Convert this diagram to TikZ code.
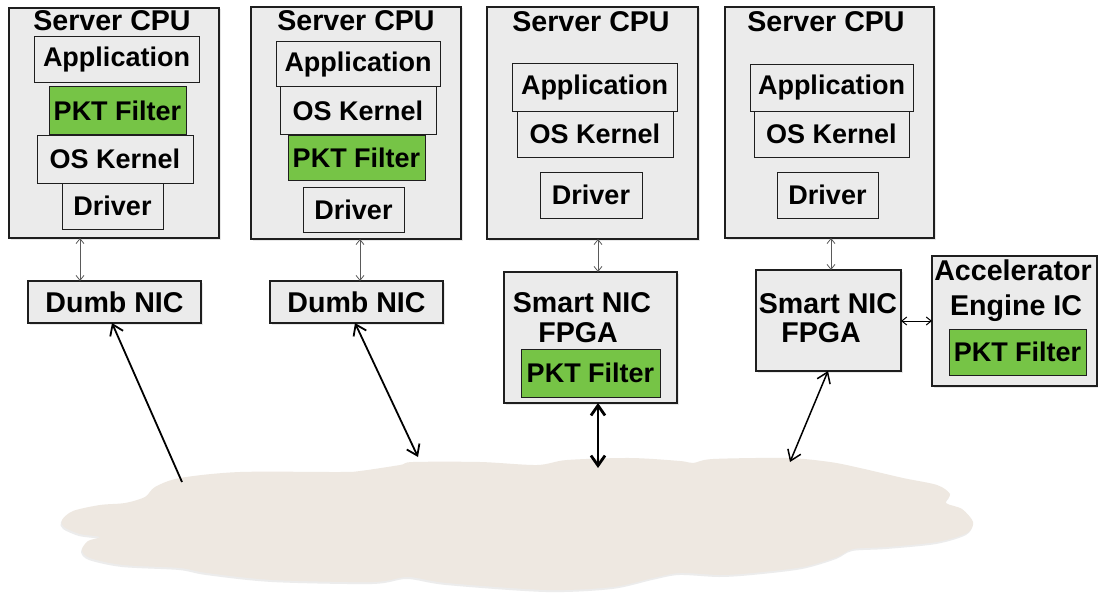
\documentclass[tikz,border=0pt]{standalone}
\usepackage{fontspec}
\setmainfont{Liberation Sans}
\usetikzlibrary{arrows.meta,shadows}
\definecolor{boxgray}{RGB}{235,235,235}
\definecolor{pktgreen}{RGB}{118,196,70}
\definecolor{cloudc}{RGB}{238,232,225}
\definecolor{edgec}{RGB}{30,30,30}
\definecolor{thinc}{RGB}{90,90,90}
\begin{document}
\begin{tikzpicture}[x=1pt,y=-1pt,
  every node/.style={inner sep=0pt, outer sep=0pt, font=\fontsize{27}{30}\selectfont\bfseries},
  outerbox/.style={draw=edgec, line width=1.1pt, fill=boxgray,
     drop shadow={opacity=0.18, shadow xshift=1.5pt, shadow yshift=-1.5pt}},
  innerbox/.style={draw=edgec, line width=1pt, fill=boxgray},
  pktbox/.style={draw=edgec, line width=1pt, fill=pktgreen},
  titletext/.style={font=\fontsize{28.6}{32}\selectfont\bfseries, anchor=base},
  bigtext/.style={font=\fontsize{28.6}{32}\selectfont\bfseries},
  thinarr/.style={draw=thinc, line width=0.8pt,
     {Straight Barb[length=5pt,width=8pt]}-{Straight Barb[length=5pt,width=8pt]}},
  netarr/.style={draw=black, line width=1.8pt,
     {Straight Barb[length=10pt,width=14pt]}-{Straight Barb[length=10pt,width=14pt]}},
  netarrone/.style={draw=black, line width=1.8pt, -{Straight Barb[length=10pt,width=14pt]}},
  netarrthick/.style={draw=black, line width=2.8pt,
     {Straight Barb[length=10pt,width=14pt]}-{Straight Barb[length=10pt,width=14pt]}},
]
\useasboundingbox (0,0) rectangle (1098,594);
\fill[white] (0,0) rectangle (1098,594);

% cloud
\fill[cloudc, drop shadow={opacity=0.15, shadow xshift=-1pt, shadow yshift=-2pt}]
  plot[smooth cycle, tension=0.5] coordinates {
  (100,537) (80,534) (64,527) (62,520) (73,511) (100,505) (125,503)
  (145,497)
  (155,487) (180,478) (240,472) (340,472)
  (360,471)
  (400,465) (413,462) (480,462)
  (537,465)
  (567,460) (630,458) (680,461)
  (693,463)
  (713,459) (787,458) (830,462) (860,468) (903,478) (937,485) (950,494)
  (946,503)
  (962,509) (973,522) (967,533) (937,542) (887,547)
  (853,549)
  (837,557) (803,567) (753,573) (720,575) (680,573)
  (653,578)
  (613,587) (547,590) (447,583)
  (408,577)
  (373,582) (273,580) (207,573)
  (180,568)
  (123,565) (90,558) (82,550) (88,541)};

\coordinate (c1) at (182,482);
\coordinate (c2) at (418,457);
\coordinate (c3) at (598,468);
\coordinate (c4) at (790,462);

% ---- column 1
\node[outerbox, minimum width=210, minimum height=230] (cpu1) at (114,123) {};
\node[titletext] (t1) at (112,31) {Server CPU};
\node[innerbox, minimum width=165, minimum height=46] (app1) at (116.5,60) {Application};
\node[pktbox, minimum width=137, minimum height=47] (pkt1) at (117.5,110.5) {PKT Filter};
\node[innerbox, minimum width=156, minimum height=48] (os1) at (115,159) {OS Kernel};
\node[innerbox, minimum width=101, minimum height=46] (drv1) at (112.5,206) {Driver};
\node[outerbox, bigtext, minimum width=173, minimum height=42] (nic1) at (114.5,302) {Dumb NIC};

% ---- column 2
\node[outerbox, minimum width=210, minimum height=232] (cpu2) at (356,123) {};
\node[titletext] (t2) at (356,30.5) {Server CPU};
\node[innerbox, minimum width=164, minimum height=45] (app2) at (358,64.5) {Application};
\node[innerbox, minimum width=156, minimum height=47] (os2) at (358,110.5) {OS Kernel};
\node[pktbox, minimum width=137, minimum height=45] (pkt2) at (356.5,157.5) {PKT Filter};
\node[innerbox, minimum width=101, minimum height=45] (drv2) at (353.5,209.5) {Driver};
\node[outerbox, bigtext, minimum width=173, minimum height=42] (nic2) at (356.5,302) {Dumb NIC};

% ---- column 3
\node[outerbox, minimum width=211, minimum height=232] (cpu3) at (592.5,123) {};
\node[titletext] (t3) at (591,32) {Server CPU};
\node[innerbox, minimum width=165, minimum height=47] (app3) at (594.5,87.5) {Application};
\node[innerbox, minimum width=156, minimum height=46] (os3) at (595,134) {OS Kernel};
\node[innerbox, minimum width=102, minimum height=46] (drv3) at (591,195) {Driver};
\node[outerbox, minimum width=173, minimum height=131] (snic3) at (590.5,337.5) {};
\node[titletext] (s3a) at (582,312) {Smart NIC};
\node[titletext] (s3b) at (578,342) {FPGA};
\node[pktbox, minimum width=139, minimum height=48] (pkt3) at (590.5,373) {PKT Filter};

% ---- column 4
\node[outerbox, minimum width=209, minimum height=231] (cpu4) at (829.5,122.5) {};
\node[titletext] (t4) at (826,32) {Server CPU};
\node[innerbox, minimum width=163, minimum height=46] (app4) at (831.5,88) {Application};
\node[innerbox, minimum width=155, minimum height=46] (os4) at (831.5,134) {OS Kernel};
\node[innerbox, minimum width=101, minimum height=46] (drv4) at (827.5,195) {Driver};
\node[outerbox, minimum width=145, minimum height=101] (snic4) at (828.5,320.5) {};
\node[titletext] (s4a) at (828,313) {Smart NIC};
\node[titletext] (s4b) at (821,342) {FPGA};

% accelerator
\node[outerbox, minimum width=165, minimum height=130] (acc) at (1014.5,321) {};
\node[titletext] (a1) at (1013,280) {Accelerator};
\node[titletext] (a2) at (1016,315) {Engine IC};
\node[pktbox, minimum width=137, minimum height=46] (pkt4) at (1017.5,352) {PKT Filter};

% ---- connectors
\draw[thinarr] (cpu1.south -| 80,0) -- (nic1.north -| 80,0);
\draw[thinarr] (cpu2.south -| 360,0) -- (nic2.north -| 360,0);
\draw[thinarr] (cpu3.south -| 598,0) -- (snic3.north -| 598,0);
\draw[thinarr] (cpu4.south -| 831,0) -- (snic4.north -| 831,0);
\draw[thinarr, line width=1pt, draw=black] (snic4.east |- 0,321) -- (acc.west |- 0,321);

\draw[netarrone] (c1) -- (nic1.south -| 112,0);
\draw[netarr] (nic2.south -| 355,0) -- (c2);
\draw[netarrthick] (snic3.south -| 598,0) -- (c3);
\draw[netarr, line width=1.5pt] (snic4.south -| 828,0) -- (c4);
\end{tikzpicture}
\end{document}
